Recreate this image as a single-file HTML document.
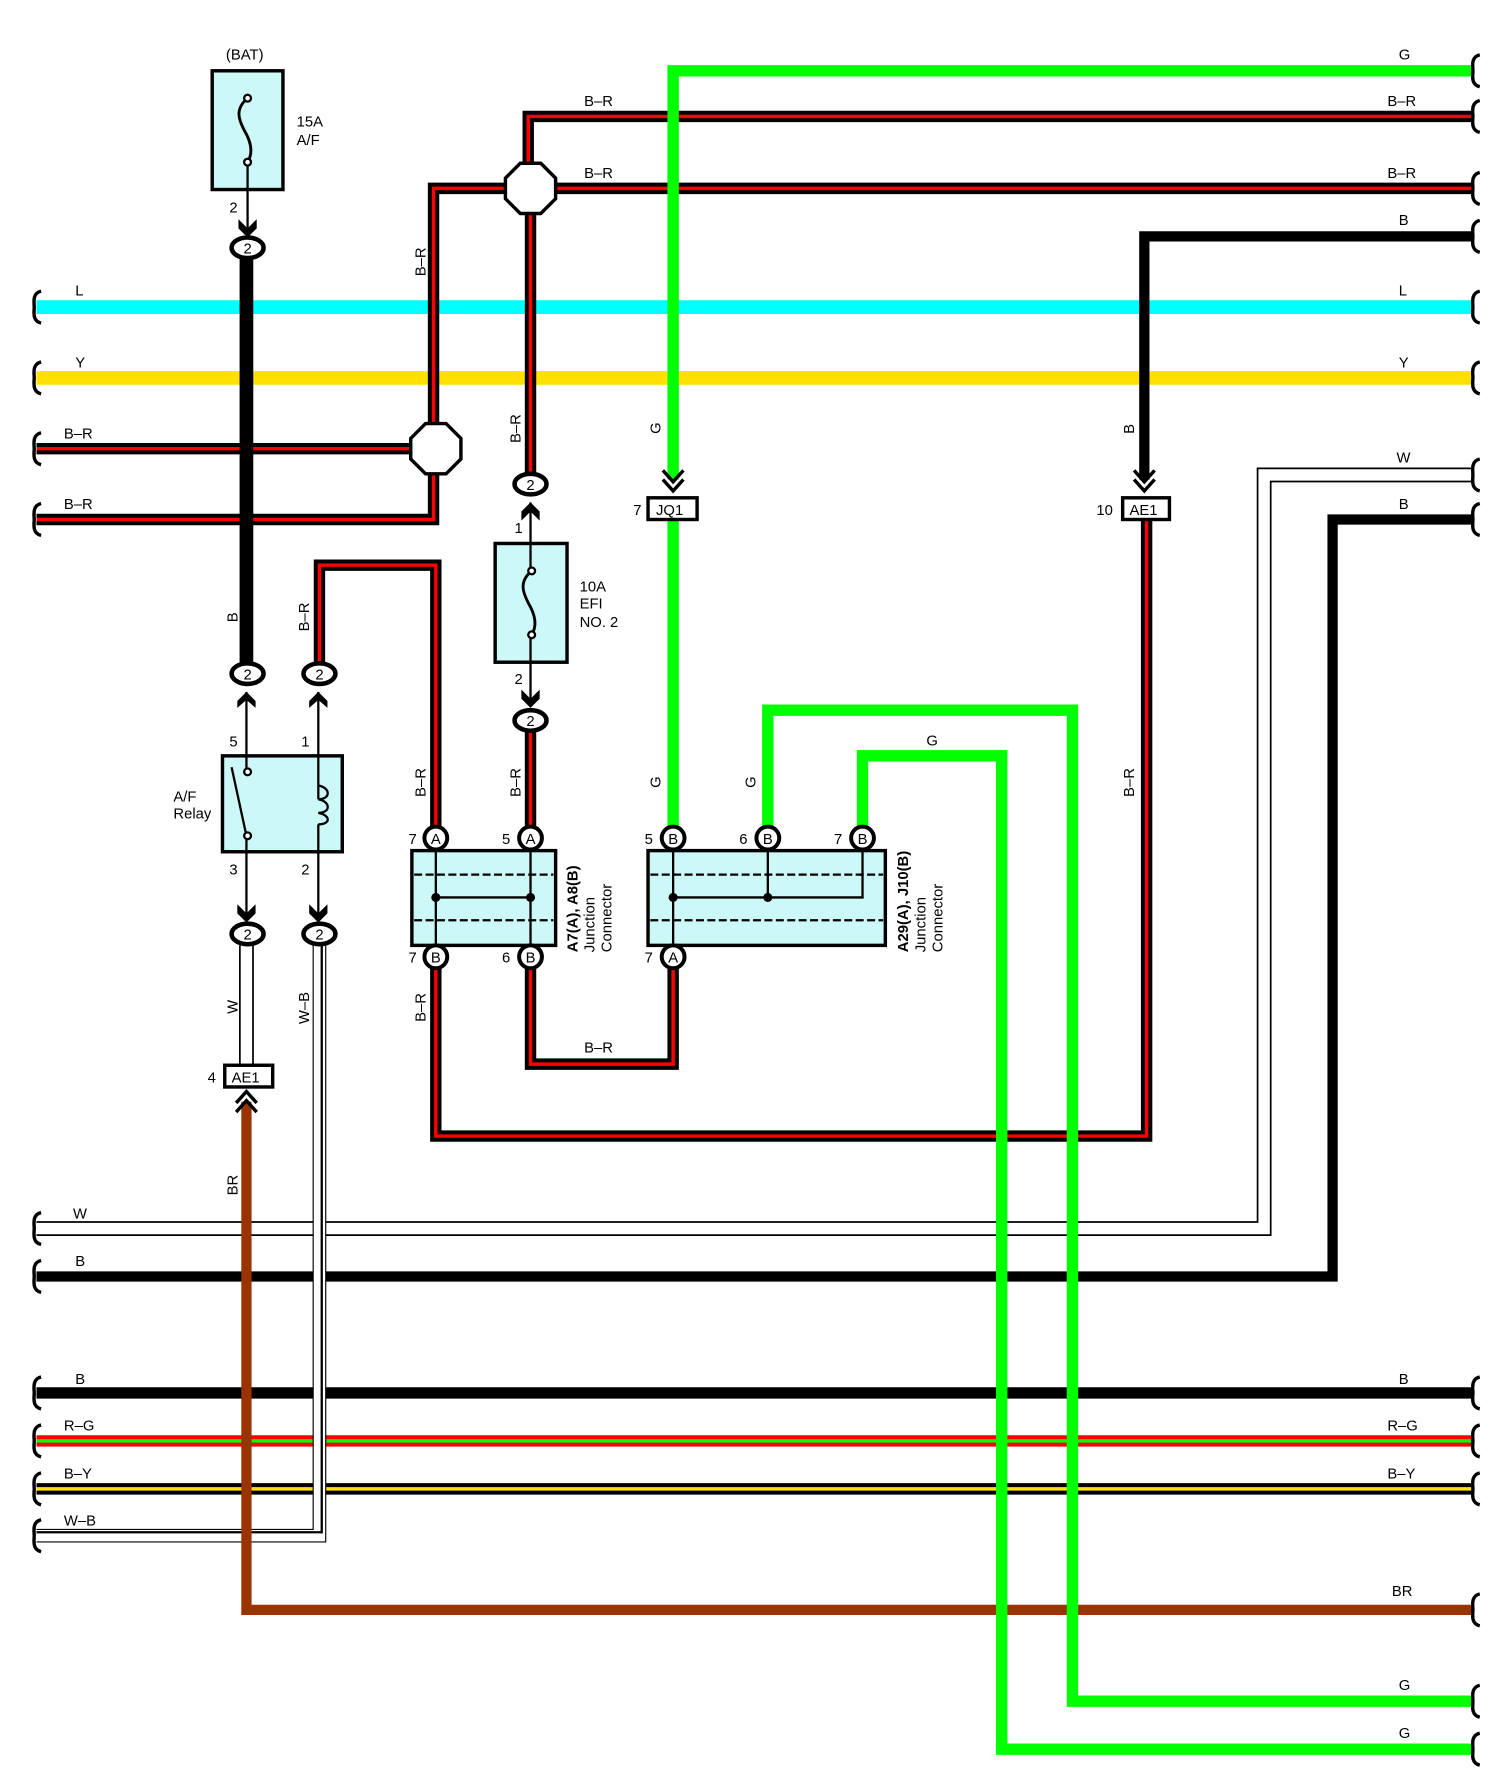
<!DOCTYPE html>
<html><head><meta charset="utf-8"><style>
html,body{margin:0;padding:0;background:#fff}
svg{display:block}
text{font-family:"Liberation Sans",sans-serif;font-size:13px;fill:#000}
</style></head><body>
<svg width="1506" height="1788" viewBox="0 0 1320 1566" preserveAspectRatio="none" xmlns="http://www.w3.org/2000/svg">
<defs>
<path id="brk" d="M4,-14 C-4,-12 -2,-4 -2,0 C-2,4 -4,12 4,14" fill="none" stroke="#000" stroke-width="3"/>
</defs>
<g fill="none" stroke-linejoin="miter">
<path d="M32,269H1290" stroke="#00ffff" stroke-width="12"/>
<path d="M32,331H1290" stroke="#ffe000" stroke-width="12"/>
<path d="M1290,102H463V165" stroke="#000" stroke-width="10"/>
<path d="M1290,102H463V165" stroke="#f00" stroke-width="3"/>
<path d="M1290,165H380V455H32" stroke="#000" stroke-width="10"/>
<path d="M1290,165H380V455H32" stroke="#f00" stroke-width="3"/>
<path d="M32,393H370" stroke="#000" stroke-width="10"/>
<path d="M32,393H370" stroke="#f00" stroke-width="3"/>
<path d="M465,165V418" stroke="#000" stroke-width="10"/>
<path d="M465,165V418" stroke="#f00" stroke-width="3"/>
<path d="M1290,207H1003V420" stroke="#000" stroke-width="9"/>
<path d="M1290,416H1108V1076H32" stroke="#000" stroke-width="13"/>
<path d="M1290,416H1108V1076H32" stroke="#fff" stroke-width="10"/>
<path d="M1290,455H1168V1118H32" stroke="#000" stroke-width="9"/>
<path d="M32,1220H1290" stroke="#000" stroke-width="10"/>
<path d="M32,1262H1290" stroke="#f00" stroke-width="10"/>
<path d="M32,1262H1290" stroke="#0f0" stroke-width="3"/>
<path d="M32,1304H1290" stroke="#000" stroke-width="10"/>
<path d="M32,1304H1290" stroke="#ffe000" stroke-width="3"/>
<path d="M280,828V1345H32" stroke="#000" stroke-width="12"/>
<path d="M280,828V1345H32" stroke="#fff" stroke-width="10"/>
<path d="M282,828V1342H32" stroke="#000" stroke-width="2"/>
<path d="M216,828V933" stroke="#000" stroke-width="13"/>
<path d="M216,828V933" stroke="#fff" stroke-width="10"/>
<path d="M216,965V1410H1290" stroke="#993300" stroke-width="9"/>
<path d="M216,225V582" stroke="#000" stroke-width="12"/>
<path d="M280,582V495H382V726" stroke="#000" stroke-width="10"/>
<path d="M280,582V495H382V726" stroke="#f00" stroke-width="3"/>
<path d="M465,640V726" stroke="#000" stroke-width="10"/>
<path d="M465,640V726" stroke="#f00" stroke-width="3"/>
<path d="M465,846V932H590V846" stroke="#000" stroke-width="10"/>
<path d="M465,846V932H590V846" stroke="#f00" stroke-width="3"/>
<path d="M382,846V995H1005V455" stroke="#000" stroke-width="10"/>
<path d="M382,846V995H1005V455" stroke="#f00" stroke-width="3"/>
<path d="M1290,62H590V420" stroke="#0f0" stroke-width="10"/>
<path d="M590,455V726" stroke="#0f0" stroke-width="10"/>
<path d="M673,726V622H940V1490H1290" stroke="#0f0" stroke-width="10"/>
<path d="M756,726V662H878V1532H1290" stroke="#0f0" stroke-width="10"/>
</g>
<polygon points="456,143 474,143 487,156 487,174 474,187 456,187 443,174 443,156" fill="#fff" stroke="#000" stroke-width="3"/>
<polygon points="373,371 391,371 404,384 404,402 391,415 373,415 360,402 360,384" fill="#fff" stroke="#000" stroke-width="3"/>
<g>
<use href="#brk" x="32" y="269"/><use href="#brk" x="32" y="331"/><use href="#brk" x="32" y="393"/><use href="#brk" x="32" y="455"/>
<use href="#brk" x="32" y="1076"/><use href="#brk" x="32" y="1118"/><use href="#brk" x="32" y="1220"/><use href="#brk" x="32" y="1262"/><use href="#brk" x="32" y="1304"/><use href="#brk" x="32" y="1345"/>
<use href="#brk" x="1293" y="62"/><use href="#brk" x="1293" y="102"/><use href="#brk" x="1293" y="165"/><use href="#brk" x="1293" y="207"/><use href="#brk" x="1293" y="269"/><use href="#brk" x="1293" y="331"/><use href="#brk" x="1293" y="416"/><use href="#brk" x="1293" y="455"/>
<use href="#brk" x="1293" y="1220"/><use href="#brk" x="1293" y="1262"/><use href="#brk" x="1293" y="1304"/><use href="#brk" x="1293" y="1410"/><use href="#brk" x="1293" y="1490"/><use href="#brk" x="1293" y="1532"/>
</g>
<rect x="186" y="62" width="62" height="104" fill="#ccf8f8" stroke="#000" stroke-width="3"/>
<path d="M217,86 C205,96 210,106 214,114 C220,124 222,134 217,142" fill="none" stroke="#000" stroke-width="2.5"/>
<circle cx="217" cy="86" r="3" fill="#fff" stroke="#000" stroke-width="2"/><circle cx="217" cy="142" r="3" fill="#fff" stroke="#000" stroke-width="2"/>
<path d="M217,145V200" stroke="#000" stroke-width="2"/>
<polygon points="209,192 217,200 225,192 225,200 217,208 209,200" fill="#000"/>
<text x="198" y="52">(BAT)</text><text x="260" y="111">15A</text><text x="260" y="127">A/F</text><text x="201" y="186">2</text>
<rect x="434" y="476" width="63" height="104" fill="#ccf8f8" stroke="#000" stroke-width="3"/>
<path d="M466,500 C454,510 459,520 463,528 C469,538 471,548 466,556" fill="none" stroke="#000" stroke-width="2.5"/>
<circle cx="466" cy="500" r="3" fill="#fff" stroke="#000" stroke-width="2"/><circle cx="466" cy="556" r="3" fill="#fff" stroke="#000" stroke-width="2"/>
<path d="M465,440V497M465,559V612" stroke="#000" stroke-width="2"/>
<polygon points="457,448 465,440 473,448 473,456 465,448 457,456" fill="#000"/>
<polygon points="457,604 465,612 473,604 473,612 465,620 457,612" fill="#000"/>
<text x="508" y="518">10A</text><text x="508" y="533">EFI</text><text x="508" y="549">NO. 2</text>
<text x="451" y="467">1</text><text x="451" y="599">2</text>
<rect x="195" y="662" width="105" height="84" fill="#ccf8f8" stroke="#000" stroke-width="3"/>
<path d="M216,606V676M216,732V800M279,606V700M279,722V800" stroke="#000" stroke-width="2"/>
<path d="M203,672 L216,732" stroke="#000" stroke-width="2"/>
<circle cx="217" cy="676" r="3" fill="#fff" stroke="#000" stroke-width="2"/><circle cx="217" cy="732" r="3" fill="#fff" stroke="#000" stroke-width="2"/>
<path d="M279,688 C290,690 290,700 279,700 C290,702 290,712 279,712 C290,714 290,722 279,722" fill="none" stroke="#000" stroke-width="2"/>
<polygon points="208,614 216,606 224,614 224,620 216,613 208,620" fill="#000"/>
<polygon points="271,614 279,606 287,614 287,620 279,613 271,620" fill="#000"/>
<polygon points="208,792 216,800 224,792 224,800 216,808 208,800" fill="#000"/>
<polygon points="271,792 279,800 287,792 287,800 279,808 271,800" fill="#000"/>
<text x="152" y="702">A/F</text><text x="152" y="717">Relay</text>
<text x="201" y="654">5</text><text x="264" y="654">1</text><text x="201" y="766">3</text><text x="264" y="766">2</text>
<g fill="#fff" stroke="#000" stroke-width="4">
<ellipse cx="217" cy="217" rx="14" ry="9"/><ellipse cx="217" cy="590" rx="14" ry="9"/><ellipse cx="280" cy="590" rx="14" ry="9"/>
<ellipse cx="217" cy="818" rx="14" ry="9"/><ellipse cx="280" cy="818" rx="14" ry="9"/>
<ellipse cx="465" cy="424" rx="14" ry="9"/><ellipse cx="465" cy="631" rx="14" ry="9"/>
</g>
<g font-size="12" text-anchor="middle">
<text x="217" y="222">2</text><text x="217" y="595">2</text><text x="280" y="595">2</text><text x="217" y="823">2</text><text x="280" y="823">2</text><text x="465" y="429">2</text><text x="465" y="636">2</text>
</g>
<rect x="361" y="745" width="126" height="83" fill="#ccf8f8" stroke="#000" stroke-width="3"/>
<rect x="568" y="745" width="208" height="83" fill="#ccf8f8" stroke="#000" stroke-width="3"/>
<g stroke="#000" stroke-width="2" fill="none">
<path d="M363,766H485M363,806H485M570,766H774M570,806H774" stroke-dasharray="7,3"/>
<path d="M382,745V828M465,745V828M382,786H465M590,745V828M590,786H756V745M673,745V786"/>
</g>
<g fill="#000"><circle cx="382" cy="786" r="4"/><circle cx="465" cy="786" r="4"/><circle cx="590" cy="786" r="4"/><circle cx="673" cy="786" r="4"/></g>
<g fill="#fff" stroke="#000" stroke-width="3.5">
<circle cx="382" cy="734" r="10"/><circle cx="465" cy="734" r="10"/><circle cx="382" cy="838" r="10"/><circle cx="465" cy="838" r="10"/>
<circle cx="590" cy="734" r="10"/><circle cx="673" cy="734" r="10"/><circle cx="756" cy="734" r="10"/><circle cx="590" cy="838" r="10"/>
</g>
<g font-size="12" text-anchor="middle">
<text x="382" y="739">A</text><text x="465" y="739">A</text><text x="382" y="843">B</text><text x="465" y="843">B</text>
<text x="590" y="739">B</text><text x="673" y="739">B</text><text x="756" y="739">B</text><text x="590" y="843">A</text>
</g>
<text x="358" y="739">7</text><text x="440" y="739">5</text><text x="358" y="843">7</text><text x="440" y="843">6</text>
<text x="565" y="739">5</text><text x="648" y="739">6</text><text x="731" y="739">7</text><text x="565" y="843">7</text>
<text transform="translate(506,834) rotate(-90)" font-weight="bold" font-size="14">A7(A), A8(B)</text>
<text transform="translate(521,834) rotate(-90)">Junction</text>
<text transform="translate(536,834) rotate(-90)">Connector</text>
<text transform="translate(796,834) rotate(-90)" font-weight="bold" font-size="14">A29(A), J10(B)</text>
<text transform="translate(811,834) rotate(-90)">Junction</text>
<text transform="translate(826,834) rotate(-90)">Connector</text>
<g stroke="#000" stroke-width="3" fill="none">
<path d="M581,412L590,422L599,412M581,420L590,430L599,420"/>
<path d="M994,412L1003,422L1012,412M994,420L1003,430L1012,420"/>
<path d="M207,966L216,956L225,966M207,974L216,964L225,974"/>
</g>
<g fill="#fff" stroke="#000" stroke-width="3">
<rect x="568" y="436" width="43" height="19"/><rect x="984" y="436" width="41" height="19"/><rect x="197" y="933" width="42" height="19"/>
</g>
<text x="575" y="451">JQ1</text><text x="990" y="451">AE1</text><text x="203" y="948">AE1</text>
<text x="555" y="451">7</text><text x="961" y="451">10</text><text x="182" y="948">4</text>
<g>
<text x="1226" y="52">G</text><text x="1216" y="93">B–R</text><text x="1216" y="156">B–R</text><text x="1226" y="197">B</text>
<text x="1226" y="259">L</text><text x="1226" y="322">Y</text><text x="1224" y="405">W</text><text x="1226" y="446">B</text>
<text x="1226" y="1212">B</text><text x="1216" y="1253">R–G</text><text x="1216" y="1295">B–Y</text><text x="1220" y="1398">BR</text>
<text x="1226" y="1480">G</text><text x="1226" y="1522">G</text>
<text x="512" y="93">B–R</text><text x="512" y="156">B–R</text><text x="812" y="653">G</text><text x="512" y="922">B–R</text>
<text x="66" y="259">L</text><text x="66" y="322">Y</text><text x="56" y="384">B–R</text><text x="56" y="446">B–R</text>
<text x="64" y="1067">W</text><text x="66" y="1109">B</text><text x="66" y="1212">B</text><text x="56" y="1253">R–G</text><text x="56" y="1295">B–Y</text><text x="56" y="1336">W–B</text>
</g>
<g>
<text transform="translate(373,242) rotate(-90)">B–R</text>
<text transform="translate(456,388) rotate(-90)">B–R</text>
<text transform="translate(579,380) rotate(-90)">G</text>
<text transform="translate(994,380) rotate(-90)">B</text>
<text transform="translate(208,545) rotate(-90)">B</text>
<text transform="translate(271,553) rotate(-90)">B–R</text>
<text transform="translate(373,698) rotate(-90)">B–R</text>
<text transform="translate(456,698) rotate(-90)">B–R</text>
<text transform="translate(579,690) rotate(-90)">G</text>
<text transform="translate(662,690) rotate(-90)">G</text>
<text transform="translate(994,698) rotate(-90)">B–R</text>
<text transform="translate(373,895) rotate(-90)">B–R</text>
<text transform="translate(208,888) rotate(-90)">W</text>
<text transform="translate(271,897) rotate(-90)">W–B</text>
<text transform="translate(208,1047) rotate(-90)">BR</text>
</g>
</svg>
</body></html>
